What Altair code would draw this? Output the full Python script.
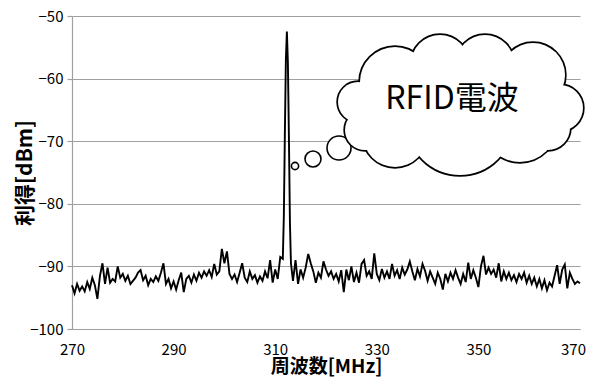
import altair as alt
import pandas as pd

# ---- spectrum data (frequency MHz, gain dBm) ----
freq_a = [270.0, 270.5, 271.0, 271.5, 272.0, 272.5, 273.0, 273.5, 274.0, 274.5,
          275.0, 275.5, 276.0, 276.5, 277.0, 277.5, 278.0, 278.5, 279.0, 279.5,
          280.0, 280.5, 281.0, 281.5, 282.0, 282.5, 283.0, 283.5, 284.0, 284.5,
          285.0, 285.5, 286.0, 286.5, 287.0, 287.5, 288.0, 288.5, 289.0, 289.5,
          290.0, 290.5, 291.0, 291.5, 292.0, 292.5, 293.0, 293.5, 294.0, 294.5,
          295.0, 295.5, 296.0, 296.5, 297.0, 297.5, 298.0, 298.5, 299.0, 299.5,
          300.0, 300.5, 301.0, 301.5, 302.0, 302.5, 303.0, 303.5, 304.0, 304.5,
          305.0, 305.5, 306.0, 306.5, 307.0, 307.5, 308.0, 308.5, 309.0, 309.5,
          310.0, 310.5, 311.0]
gain_a = [-93.0, -94.3, -92.8, -93.9, -93.2, -94.0, -92.5, -93.6, -91.8, -93.0,
          -95.2, -91.5, -89.5, -92.8, -90.2, -92.6, -92.0, -92.4, -90.0, -91.8,
          -91.2, -92.3, -91.5, -92.8, -92.3, -91.8, -91.0, -90.6, -92.2, -91.5,
          -93.0, -92.0, -92.5, -91.6, -92.3, -91.0, -89.5, -92.8, -92.0, -93.5,
          -92.4, -93.7, -92.2, -91.0, -94.1, -92.0, -91.5, -92.6, -91.3, -92.3,
          -91.0, -91.8, -90.8, -91.5, -90.6, -91.7, -89.6, -91.3, -90.8, -87.2,
          -89.5, -87.6, -91.2, -92.0, -91.3, -92.5, -91.0, -89.5, -91.8, -92.5,
          -90.8, -92.0, -91.4, -92.6, -91.6, -92.3, -90.8, -91.9, -89.0, -92.6,
          -90.5, -92.0, -88.5]

freq_peak = [311.5, 311.7, 311.9, 312.1, 312.3, 312.5, 312.7, 312.9, 313.1]
gain_peak = [-88.8, -82.0, -69.0, -57.0, -52.5, -57.5, -69.5, -83.0, -89.5]

freq_b = [313.5, 314.0, 314.5, 315.0, 315.5, 316.0, 316.5, 317.0, 317.5, 318.0,
          318.5, 319.0, 319.5, 320.0, 320.5, 321.0, 321.5, 322.0, 322.5, 323.0,
          323.5, 324.0, 324.5, 325.0, 325.5, 326.0, 326.5, 327.0, 327.5, 328.0,
          328.5, 329.0, 329.5, 330.0, 330.5, 331.0, 331.5, 332.0, 332.5, 333.0,
          333.5, 334.0, 334.5, 335.0, 335.5, 336.0, 336.5, 337.0, 337.5, 338.0,
          338.5, 339.0, 339.5, 340.0, 340.5, 341.0, 341.5, 342.0, 342.5, 343.0,
          343.5, 344.0, 344.5, 345.0, 345.5, 346.0, 346.5, 347.0, 347.5, 348.0,
          348.5, 349.0, 349.5, 350.0, 350.5, 351.0, 351.5, 352.0, 352.5, 353.0,
          353.5, 354.0, 354.5, 355.0, 355.5, 356.0, 356.5, 357.0, 357.5, 358.0,
          358.5, 359.0, 359.5, 360.0, 360.5, 361.0, 361.5, 362.0, 362.5, 363.0,
          363.5, 364.0, 364.5, 365.0, 365.5, 366.0, 366.5, 367.0, 367.5, 368.0,
          368.5, 369.0, 369.5, 370.0]
gain_b = [-92.3, -89.0, -92.8, -90.5, -91.8, -90.2, -88.0, -89.5, -90.8, -92.6,
          -91.0, -91.8, -89.2, -90.5, -91.5, -90.8, -92.0, -91.2, -92.4, -90.6,
          -94.1, -90.5, -92.2, -90.0, -92.5, -91.0, -92.6, -89.6, -89.0, -91.5,
          -90.8, -92.0, -87.9, -91.2, -92.2, -90.4, -91.8, -90.8, -92.0, -89.6,
          -91.5, -90.6, -92.0, -90.2, -91.3, -90.5, -89.2, -90.8, -92.2, -90.4,
          -91.6, -89.6, -90.7, -92.3, -90.8, -91.8, -92.8, -91.0, -92.0, -93.7,
          -91.2, -92.4, -91.0, -92.0, -90.6, -91.8, -92.8, -91.2, -92.5, -89.4,
          -92.0, -90.6, -91.8, -93.3, -90.0, -88.3, -91.3, -90.2, -91.2, -90.5,
          -91.8, -89.5, -92.4, -90.8, -92.0, -91.0, -92.2, -91.4, -92.5, -91.2,
          -92.0, -91.0, -92.6, -91.5, -92.8, -91.8, -93.2, -92.0, -93.5, -92.2,
          -93.8, -92.6, -93.2, -91.5, -89.8, -92.8, -90.5, -89.7, -93.5, -91.0,
          -92.0, -92.8, -92.4, -92.7]

# ---- thought-bubble annotation (centres in data units, radius in px) ----
cloud_f = [326.30, 327.68, 333.58, 346.38, 358.19, 363.70, 366.06, 360.75, 351.30, 342.44, 333.58,
           338.50, 350.31, 358.19]
cloud_db = [-63.74, -68.21, -69.01, -66.93, -67.41, -67.89, -64.70, -59.42, -57.67, -57.67, -60.54,
            -64.22, -63.42, -63.42]
cloud_r = [20, 20, 32, 53, 37, 22, 23, 32, 29, 29, 35, 40, 40, 35]

bubble_f = [313.90, 317.44, 322.56]
bubble_db = [-73.96, -72.84, -71.09]
bubble_r = [3.6, 8, 12]

label_f = [344.8]
label_db = [-63.3]
label_text = ["RFID電波"]

x_ticks = [270, 290, 310, 330, 350, 370]
y_ticks = [-100, -90, -80, -70, -60, -50]

FONT = "Noto Sans CJK JP"
GRAY = "#a0a0a0"

df_line = pd.DataFrame({"f": freq_a + freq_peak + freq_b,
                        "v": gain_a + gain_peak + gain_b})
df_cloud = pd.DataFrame({"f": cloud_f, "v": cloud_db,
                         "s": [(2 * r) ** 2 for r in cloud_r]})
df_bub = pd.DataFrame({"f": bubble_f, "v": bubble_db,
                       "s": [(2 * r) ** 2 for r in bubble_r]})
df_lab = pd.DataFrame({"f": label_f, "v": label_db, "t": label_text})

xscale = alt.Scale(domain=[270, 370], nice=False, zero=False)
yscale = alt.Scale(domain=[-100, -50], nice=False, zero=False)

xaxis = alt.Axis(values=x_ticks, title="周波数[MHz]", grid=False, ticks=False,
                 domainColor=GRAY, domainWidth=1.2,
                 labelFont=FONT, labelFontSize=15, labelColor="black",
                 labelPadding=13, labelFlush=False,
                 labelOffset={"expr": "datum.value == 370 ? -7 : 0"},
                 titleFont=FONT, titleFontSize=19, titleFontWeight="bold",
                 titleColor="black", titleBaseline="bottom", titleY=47)
yaxis = alt.Axis(values=y_ticks, title="利得[dBm]", grid=True, gridColor=GRAY,
                 gridWidth=1.2, tickColor=GRAY, tickSize=5, tickWidth=1.2,
                 domainColor=GRAY, domainWidth=1.2,
                 labelFont=FONT, labelFontSize=15, labelColor="black",
                 labelPadding=4,
                 titleFont=FONT, titleFontSize=21, titleFontWeight="bold",
                 titleColor="black", titleBaseline="bottom", titleX=-37)

X = alt.X("f:Q", scale=xscale, axis=xaxis)
Y = alt.Y("v:Q", scale=yscale, axis=yaxis)

line = alt.Chart(df_line).mark_line(color="black", strokeWidth=1.9).encode(x=X, y=Y)

bubbles = alt.Chart(df_bub).mark_circle(
    fill="white", stroke="black", strokeWidth=1.6, opacity=1
).encode(x=X, y=Y, size=alt.Size("s:Q", scale=None, legend=None))

cloud_edge = alt.Chart(df_cloud).mark_circle(
    fill="white", stroke="black", strokeWidth=3.4, opacity=1
).encode(x=X, y=Y, size=alt.Size("s:Q", scale=None, legend=None))

cloud_fill = alt.Chart(df_cloud).mark_circle(
    fill="white", strokeWidth=0, opacity=1
).encode(x=X, y=Y, size=alt.Size("s:Q", scale=None, legend=None))

label = alt.Chart(df_lab).mark_text(
    font=FONT, fontSize=32, color="black"
).encode(x=X, y=Y, text="t:N")

chart = alt.layer(line, bubbles, cloud_edge, cloud_fill, label).properties(
    width=508, height=313,
    padding={"left": 64, "top": 8, "right": 6, "bottom": 50},
    autosize=alt.AutoSizeParams(type="none"),
    background="white",
).configure_view(stroke=None)

chart.save("out.html", embed_options={"renderer": "svg", "actions": False})
